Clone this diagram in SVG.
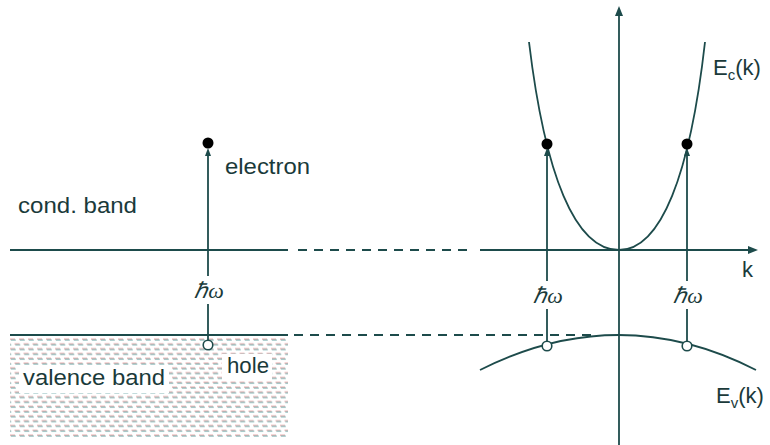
<svg xmlns="http://www.w3.org/2000/svg" width="770" height="445" viewBox="0 0 770 445">
<style>
.ln{stroke:#1d4b4b;stroke-width:1.8;fill:none}
.dash{stroke:#1d4b4b;stroke-width:1.8;fill:none;stroke-dasharray:9 7}
.lbl{font-family:"Liberation Sans",Arial,sans-serif;font-size:22px;fill:#1a3a3a}
.hw{font-family:"Liberation Serif","Times New Roman",serif;font-style:italic;font-size:22px;fill:#1a3a3a}
.sub{font-size:15px}
.dot{fill:#000}
.hole{fill:#fff;stroke:#1d4b4b;stroke-width:1.6}
.ah{fill:#1d4b4b}
</style>
<defs>
<pattern id="hatch" x="10" y="338" width="9" height="9.6" patternUnits="userSpaceOnUse">
<rect x="0" y="0.6" width="5" height="1" fill="#e49494"/>
<rect x="0.8" y="1.5" width="5" height="1" fill="#6fa9a9"/>
<rect x="4.5" y="5.4" width="5" height="1" fill="#e49494"/>
<rect x="5.3" y="6.3" width="5" height="1" fill="#6fa9a9"/>
<rect x="-4.5" y="5.4" width="5" height="1" fill="#e49494"/>
<rect x="-3.7" y="6.3" width="5" height="1" fill="#6fa9a9"/>
</pattern>
</defs>
<rect width="770" height="445" fill="#fff"/>
<g id="valence-band-region">
<rect x="10" y="337" width="278" height="100" fill="url(#hatch)"/>
<rect x="19" y="366" width="150" height="27" fill="#fff"/>
<rect x="222" y="354" width="50" height="26" fill="#fff"/>
</g>
<g id="connectors">
<line class="ln" x1="10" y1="250" x2="288" y2="250"/>
<line class="dash" x1="298" y1="250" x2="474" y2="250"/>
<line class="ln" x1="480" y1="250" x2="750" y2="250"/>
<polygon class="ah" points="758,250 748,246 748,254"/>
<line class="ln" x1="10" y1="335" x2="288" y2="335"/>
<line class="dash" x1="294" y1="335" x2="592" y2="335"/>
<line class="ln" x1="619" y1="14" x2="619" y2="445"/>
<polygon class="ah" points="619,6 615,16 623,16"/>
<path class="ln" d="M529,42 C545,175 575,250 619,250 C661,250 690,175 705,42"/>
<path class="ln" d="M480,370 Q619,300 756,370"/>
<line class="ln" x1="208" y1="345" x2="208" y2="304"/>
<line class="ln" x1="208" y1="276" x2="208" y2="155"/>
<polygon class="ah" points="208,148 205,156 211,156"/>
<line class="ln" x1="547" y1="346" x2="547" y2="309"/>
<line class="ln" x1="547" y1="281" x2="547" y2="155"/>
<polygon class="ah" points="547,148 544,156 550,156"/>
<line class="ln" x1="687" y1="346" x2="687" y2="309"/>
<line class="ln" x1="687" y1="281" x2="687" y2="155"/>
<polygon class="ah" points="687,148 684,156 690,156"/>
</g>
<g id="electron-left"><circle class="dot" cx="208" cy="143" r="5.5"/></g>
<g id="electron-k1"><circle class="dot" cx="547" cy="144" r="5.5"/></g>
<g id="electron-k2"><circle class="dot" cx="687" cy="144" r="5.5"/></g>
<g id="hole-left"><circle class="hole" cx="208" cy="345" r="4.8"/></g>
<g id="hole-k1"><circle class="hole" cx="547" cy="346" r="4.8"/></g>
<g id="hole-k2"><circle class="hole" cx="687" cy="346" r="4.8"/></g>
<g id="labels">
<text class="lbl" x="18" y="213" textLength="119" lengthAdjust="spacingAndGlyphs">cond. band</text>
<text class="lbl" x="225" y="174" textLength="85" lengthAdjust="spacingAndGlyphs">electron</text>
<text class="lbl" x="227" y="373" textLength="42" lengthAdjust="spacingAndGlyphs">hole</text>
<text class="lbl" x="23" y="385" textLength="142" lengthAdjust="spacingAndGlyphs">valence band</text>
<text class="lbl" x="742" y="277" font-size="23">k</text>
<text class="lbl" x="713" y="75" font-size="24">E<tspan class="sub" dy="5">c</tspan><tspan dy="-5">(k)</tspan></text>
<text class="lbl" x="716" y="403" font-size="24">E<tspan class="sub" dy="5">v</tspan><tspan dy="-5">(k)</tspan></text>
<text class="hw" x="209" y="298" text-anchor="middle">ℏω</text>
<text class="hw" x="548" y="303" text-anchor="middle">ℏω</text>
<text class="hw" x="688" y="303" text-anchor="middle">ℏω</text>
</g>
</svg>
